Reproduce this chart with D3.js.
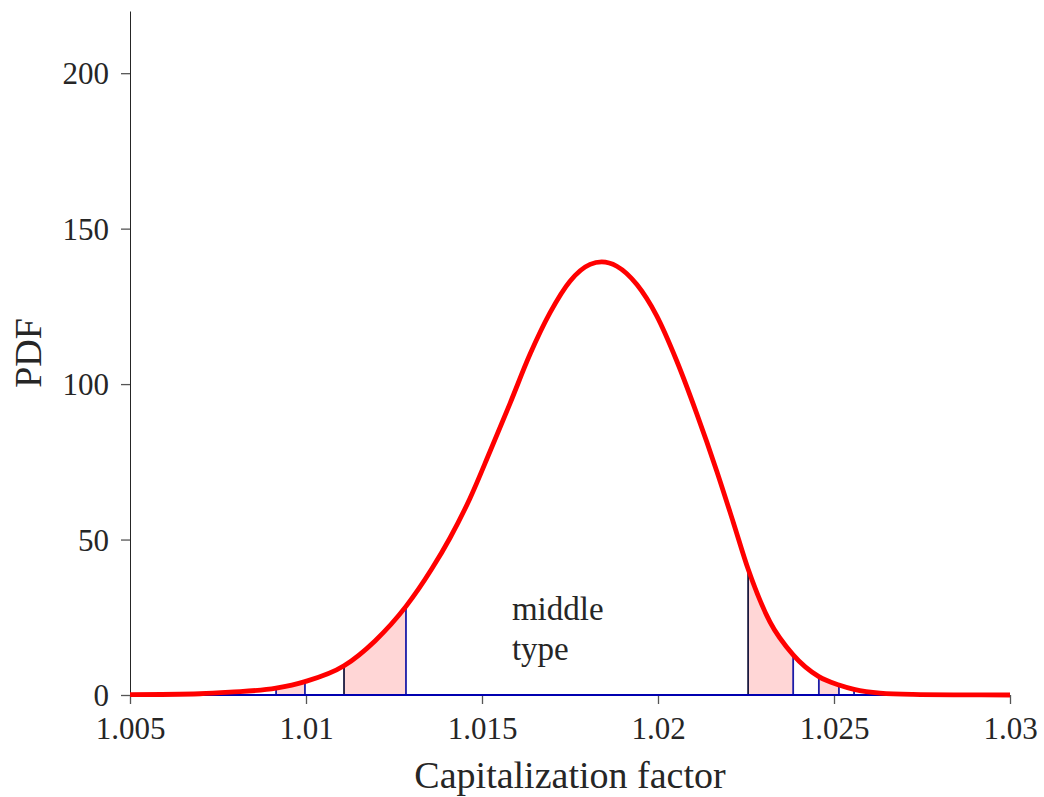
<!DOCTYPE html>
<html>
<head>
<meta charset="utf-8">
<script src="https://cdn.jsdelivr.net/npm/d3@7"></script>
<style>
  body { margin: 0; background: #fff; }
  text { font-family: "Liberation Serif", "Times New Roman", serif; fill: #262626; }
</style>
</head>
<body>
<div id="chart"></div>
<script>
// Data
const capFactor = [1.0050, 1.00699, 1.00784, 1.00915, 1.00997, 1.01108, 1.01196, 1.01284, 1.01357,
  1.01409, 1.01466, 1.01523, 1.01580, 1.01636, 1.01693, 1.01750, 1.01807, 1.01840, 1.01883,
  1.01940, 1.01996, 1.02053, 1.02110, 1.02167, 1.02214, 1.02256, 1.02318, 1.02384, 1.02457,
  1.02514, 1.02557, 1.02631, 1.02724, 1.02858, 1.0300];
const pdf = [0.1, 0.4, 0.9, 2.2, 4.3, 9.4, 17.4, 28.5, 40.5,
  50.5, 63.3, 78.4, 93.9, 109.5, 122.9, 133.1, 138.5, 139.3, 137.9,
  132.0, 122.0, 107.5, 90.5, 72.0, 55.5, 40.5, 23.5, 12.9, 5.9,
  3.2, 1.8, 0.6, 0.2, 0.05, 0.0];

// shaded bands [from, to]
const bands = [[1.00915, 1.00997], [1.01108, 1.01284], [1.02256, 1.02384], [1.02457, 1.02514]];
// vertical marker lines: x, height, dark (black) or blue
const markX = [1.00915, 1.00997, 1.01108, 1.01284, 1.02256, 1.02384, 1.02457, 1.02514, 1.02557];
const markY = [2.2, 4.3, 9.4, 28.5, 40.5, 12.9, 5.9, 3.2, 1.8];
const markDark = [false, false, true, false, true, false, false, false, false];

const xTicks = [1.005, 1.01, 1.015, 1.02, 1.025, 1.03];
const xTickLabels = ["1.005", "1.01", "1.015", "1.02", "1.025", "1.03"];
const yTicks = [0, 50, 100, 150, 200];

const width = 1044, height = 797;
const margin = {top: 11, right: 34, bottom: 102, left: 130};
const w = width - margin.left - margin.right;
const h = height - margin.top - margin.bottom;

const svg = d3.select("#chart").append("svg")
  .attr("width", width)
  .attr("height", height)
  .append("g")
  .attr("transform", `translate(${margin.left},${margin.top})`);

const x = d3.scaleLinear().domain([1.005, 1.03]).range([0, w]);
const y = d3.scaleLinear().domain([0, 220]).range([h, 0]);

const points = capFactor.map((c, i) => ({x: c, y: pdf[i]}));

// shaded areas
const area = d3.area()
  .x(d => x(d.x))
  .y0(y(0))
  .y1(d => y(d.y))
  .curve(d3.curveMonotoneX);

bands.forEach(([a, b]) => {
  const seg = points.filter(p => p.x >= a && p.x <= b);
  svg.append("path")
    .datum(seg)
    .attr("fill", "#ffd6d6")
    .attr("stroke", "none")
    .attr("d", area);
});

// axes
const xAxis = svg.append("g")
  .attr("transform", `translate(0,${h})`)
  .call(d3.axisBottom(x).tickValues(xTicks).tickSize(9).tickSizeOuter(0)
    .tickFormat((d, i) => xTickLabels[i]));
const yAxis = svg.append("g")
  .call(d3.axisLeft(y).tickValues(yTicks).tickSize(9).tickSizeOuter(0));

[xAxis, yAxis].forEach(g => {
  g.select(".domain").attr("stroke", "#262626").attr("stroke-width", 1);
  g.selectAll(".tick line").attr("stroke", "#555").attr("stroke-width", 1.3);
  g.selectAll(".tick text")
    .attr("font-family", "Liberation Serif, serif")
    .style("font-size", "31px")
    .attr("fill", "#262626");
});
xAxis.selectAll(".tick text").attr("dy", "1.02em");
yAxis.selectAll(".tick text").attr("x", -21).attr("dy", "0.34em");

// vertical marker lines
svg.selectAll(".mark")
  .data(markX)
  .enter()
  .append("line")
  .attr("x1", d => x(d))
  .attr("x2", d => x(d))
  .attr("y1", y(0))
  .attr("y2", (d, i) => y(markY[i]))
  .attr("stroke", (d, i) => markDark[i] ? "#1a1a40" : "#1c1ca8")
  .attr("stroke-width", 1.8);

// baseline
svg.append("line")
  .attr("x1", x(1.005)).attr("x2", x(1.03))
  .attr("y1", y(0)).attr("y2", y(0))
  .attr("stroke", "#0000b0")
  .attr("stroke-width", 2.2);

// PDF curve
const line = d3.line()
  .x(d => x(d.x))
  .y(d => y(d.y))
  .curve(d3.curveMonotoneX);

svg.append("path")
  .datum(points)
  .attr("fill", "none")
  .attr("stroke", "#ff0000")
  .attr("stroke-width", 4.8)
  .attr("stroke-linejoin", "round")
  .attr("d", line);

// annotation
const note = svg.append("text")
  .attr("x", x(1.01585))
  .attr("y", y(24.2))
  .style("font-size", "33px");
note.append("tspan").attr("x", x(1.01585)).text("middle");
note.append("tspan").attr("x", x(1.01585)).attr("dy", 40).text("type");

// axis labels
svg.append("text")
  .attr("x", w / 2)
  .attr("y", h + 93)
  .attr("text-anchor", "middle")
  .style("font-size", "38px")
  .text("Capitalization factor");

svg.append("text")
  .attr("transform", "rotate(-90)")
  .attr("x", -(y(110)))
  .attr("y", -89)
  .attr("text-anchor", "middle")
  .style("font-size", "38px")
  .text("PDF");
</script>
</body>
</html>
